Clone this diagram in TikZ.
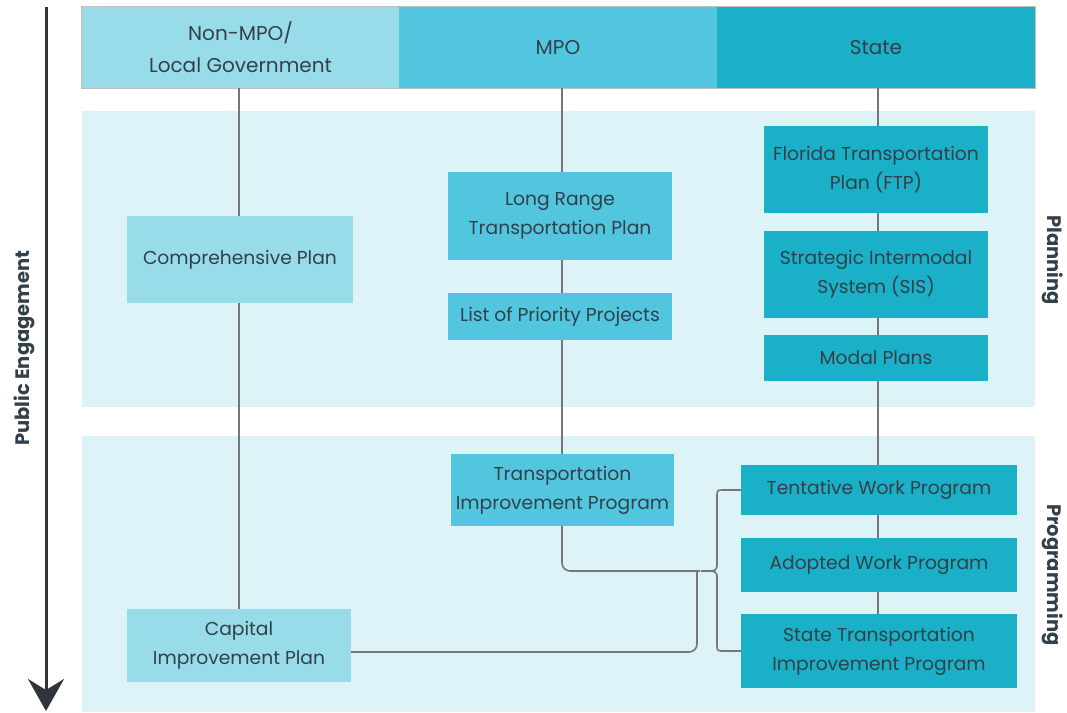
\documentclass[tikz,border=0pt]{standalone}
\usepackage{fontspec}
\setmainfont{Poppins}
\usetikzlibrary{arrows.meta,calc}
\definecolor{cLocal}{HTML}{98DCE9}
\definecolor{cMPO}{HTML}{52C6DF}
\definecolor{cState}{HTML}{1AB0C7}
\definecolor{cBand}{HTML}{DDF3F8}
\definecolor{cText}{HTML}{33404A}
\definecolor{cLine}{HTML}{767676}
\definecolor{cArrow}{HTML}{30343B}
\tikzset{
  box/.style={inner sep=0pt, align=center, text=cText, font=\fontsize{18.7}{29}\selectfont},
  localbox/.style={box, fill=cLocal},
  mpobox/.style={box, fill=cMPO},
  statebox/.style={box, fill=cState},
  hdr/.style={font=\fontsize{20}{32}\selectfont},
  conn/.style={draw=cLine, line width=1.6pt},
  sidelabel/.style={text=cText, font=\bfseries\fontsize{19.5}{22}\selectfont, inner sep=0pt},
}
\begin{document}
\begin{tikzpicture}[x=1pt,y=-1pt]
\useasboundingbox (0,0) rectangle (1067,712);
% bands
\fill[cBand] (82,111) rectangle (1035,407);
\fill[cBand] (82,436) rectangle (1035,712);
% header
\node[localbox, hdr, minimum width=317pt, minimum height=81pt] (h1) at (240.5,47.5) {Non-MPO/\\Local Government};
\node[mpobox, hdr, minimum width=318pt, minimum height=81pt] (h2) at (558,47.5) {MPO};
\node[statebox, hdr, minimum width=318pt, minimum height=81pt] (h3) at (876,47.5) {State};
\draw[draw=black!25, line width=0.8pt] (h1.north west) rectangle (h3.south east);
% local column
\node[localbox, minimum width=226pt, minimum height=87pt] (comp) at (240,259.5) {Comprehensive Plan};
\node[localbox, minimum width=224pt, minimum height=73pt] (cap) at (239,645.5) {Capital\\Improvement Plan};
% MPO column
\node[mpobox, minimum width=224pt, minimum height=88pt] (lrtp) at (560,216) {Long Range\\Transportation Plan};
\node[mpobox, minimum width=224pt, minimum height=47pt] (lopp) at (560,316.5) {List of Priority Projects};
\node[mpobox, minimum width=223pt, minimum height=72pt] (tip) at (562.5,490) {Transportation\\Improvement Program};
% State column
\node[statebox, minimum width=224pt, minimum height=87pt] (ftp) at (876,169.5) {Florida Transportation\\Plan (FTP)};
\node[statebox, minimum width=224pt, minimum height=87pt] (sis) at (876,274.5) {Strategic Intermodal\\System (SIS)};
\node[statebox, minimum width=224pt, minimum height=46pt] (modal) at (876,358) {Modal Plans};
\node[statebox, minimum width=276pt, minimum height=50pt] (twp) at (879,490) {Tentative Work Program};
\node[statebox, minimum width=276pt, minimum height=54pt] (awp) at (879,565) {Adopted Work Program};
\node[statebox, minimum width=276pt, minimum height=74pt] (stip) at (879,651) {State Transportation\\Improvement Program};
% vertical connectors
\coordinate (xl) at (239,0);
\coordinate (xm) at (562,0);
\coordinate (xs) at (878,0);
\draw[conn] (h1.south -| xl) -- (comp.north -| xl);
\draw[conn] (comp.south -| xl) -- (cap.north -| xl);
\draw[conn] (h2.south -| xm) -- (lrtp.north -| xm);
\draw[conn] (lrtp.south -| xm) -- (lopp.north -| xm);
\draw[conn] (lopp.south -| xm) -- (tip.north -| xm);
\draw[conn] (h3.south -| xs) -- (ftp.north -| xs);
\draw[conn] (ftp.south -| xs) -- (sis.north -| xs);
\draw[conn] (sis.south -| xs) -- (modal.north -| xs);
\draw[conn] (modal.south -| xs) -- (twp.north -| xs);
\draw[conn] (twp.south -| xs) -- (awp.north -| xs);
\draw[conn] (awp.south -| xs) -- (stip.north -| xs);
% junction and brace
\coordinate (j) at (700,571);
\draw[conn, rounded corners=8pt] (tip.south -| xm) |- (j);
\draw[conn, rounded corners=8pt] ($(cap.east)+(0,6.5)$) -| (697,571);
\draw[conn] (twp.west) -- (724,490) .. controls (717,490) .. (717,497) -- (717,563) .. controls (717,571) .. (701,571);
\draw[conn] (701,571) .. controls (717,571) .. (717,579) -- (717,644) .. controls (717,651) .. (724,651) -- (stip.west |- 0,651);
% public engagement arrow
\coordinate (atop) at (46,7);
\coordinate (abot) at (46,711);
\draw[cArrow, line width=3pt, -{Stealth[length=32pt,width=36pt,inset=11pt]}] (atop) -- (abot);
\node[sidelabel, rotate=90] (pe) at (24,348) {Public Engagement};
\node[sidelabel, rotate=-90] (pl) at (1053,260) {Planning};
\node[sidelabel, rotate=-90] (pr) at (1053,575) {Programming};
\end{tikzpicture}
\end{document}
